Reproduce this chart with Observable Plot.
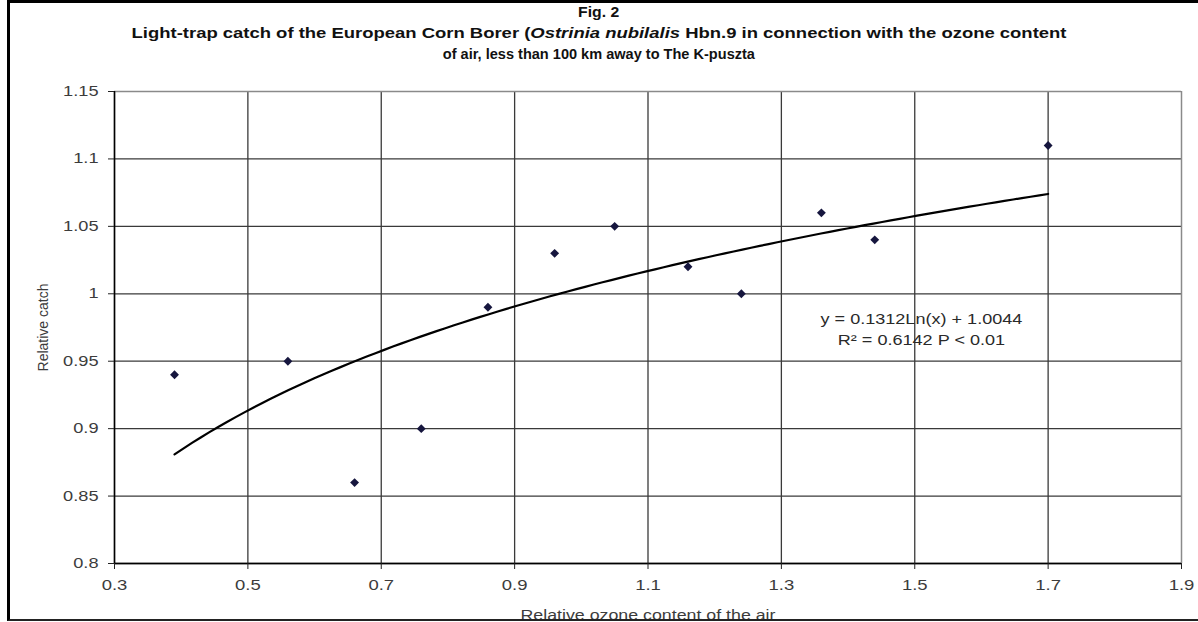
<!DOCTYPE html>
<html><head><meta charset="utf-8">
<script src="https://cdn.jsdelivr.net/npm/d3@7"></script>
<script src="https://cdn.jsdelivr.net/npm/@observablehq/plot@0.6"></script>
<style>
html,body{margin:0;padding:0;background:#fff;width:1198px;height:622px;overflow:hidden;}
#frame{position:absolute;left:7px;top:0;width:1200px;height:616px;border-left:3px solid #000;border-top:3px solid #000;border-bottom:2px solid #222;pointer-events:none;}
#title{position:absolute;left:0;top:1px;width:1198px;text-align:center;font-family:"Liberation Sans",Arial,sans-serif;font-weight:bold;font-size:15px;line-height:21px;color:#111;}
#title span{display:inline-block;transform-origin:50% 50%;white-space:nowrap;}
#title .l1{transform:scaleX(1.05);}
#title .l2{transform:scaleX(1.23);}
#title .l3{transform:scaleX(0.97);}
#chart{position:absolute;left:0;top:70px;}
</style></head>
<body>
<div id="title"><div><span class="l1">Fig. 2</span></div><div><span class="l2">Light-trap catch of the European Corn Borer (<i>Ostrinia nubilalis</i> Hbn.9 in connection with the ozone content</span></div><div><span class="l3">of air, less than 100 km away to The K-puszta</span></div></div>
<div id="chart"></div>
<div id="frame"></div>
<script>
// Observed points
const ozone = [0.39, 0.56, 0.66, 0.76, 0.86, 0.96, 1.05, 1.16, 1.24, 1.36, 1.44, 1.70];
const relCatch = [0.94, 0.95, 0.86, 0.90, 0.99, 1.03, 1.05, 1.02, 1.00, 1.06, 1.04, 1.11];
// Axis ticks
const xTicks = [0.3, 0.5, 0.7, 0.9, 1.1, 1.3, 1.5, 1.7, 1.9];
const yTicks = [0.8, 0.85, 0.9, 0.95, 1.0, 1.05, 1.1, 1.15];
// Trend line as given in the chart: y = a ln(x) + b
const trendA = 0.1312;
const trendB = 1.0044;
const equationText = ["y = 0.1312Ln(x) + 1.0044", "R² = 0.6142 P < 0.01"];
const equationX = [1.51, 1.51];
const equationY = [0.981, 0.965];

const points = ozone.map((x, i) => ({x, y: relCatch[i]}));
const [xmin, xmax] = d3.extent(ozone);
const trend = d3.range(0, 101).map(i => {
  const x = xmin + (xmax - xmin) * i / 100;
  return {x, y: trendA * Math.log(x) + trendB};
});
const eq = equationText.map((t, i) => ({t, x: equationX[i], y: equationY[i]}));
const fmt = d => String(+d.toFixed(2));

const chart = Plot.plot({
  width: 1198,
  height: 552,
  marginLeft: 114,
  marginRight: 17,
  marginTop: 21,
  marginBottom: 59,
  style: {fontFamily: "'Liberation Sans', Arial, sans-serif", background: "transparent"},
  x: {domain: [0.3, 1.9]},
  y: {domain: [0.8, 1.15]},
  marks: [
    Plot.gridY(yTicks.slice(0, -1), {stroke: "#3a3a3a", strokeOpacity: 1, strokeWidth: 1.3}),
    Plot.gridX(xTicks.slice(0, -1), {stroke: "#3a3a3a", strokeOpacity: 1, strokeWidth: 1.3}),
    Plot.ruleY([1.15], {stroke: "#8a8a8a", strokeWidth: 1.5}),
    Plot.ruleX([1.9], {stroke: "#8a8a8a", strokeWidth: 1.5}),
    Plot.ruleX([0.3], {stroke: "#000", strokeWidth: 1.5}),
    Plot.ruleY([0.8], {stroke: "#000", strokeWidth: 1.5}),
    Plot.axisY(yTicks, {tickSize: 6, tickPadding: 10, tickFormat: fmt, fontSize: 14, fill: "#3c3c3c", stroke: "#222",
      label: "Relative catch", labelAnchor: "center", labelOffset: 76, labelArrow: "none"}),
    Plot.axisX(xTicks, {tickSize: 6, tickPadding: 11, tickFormat: fmt, fontSize: 14, fill: "#3c3c3c", stroke: "#222",
      label: "Relative ozone content of the air", labelAnchor: "center", labelOffset: 56, labelArrow: "none"}),
    Plot.line(trend, {x: "x", y: "y", stroke: "#000", strokeWidth: 2.2}),
    Plot.dot(points, {x: "x", y: "y", symbol: "diamond2", r: 4, fill: "#16163e", stroke: "none"}),
    Plot.text(eq, {x: "x", y: "y", text: "t", fontSize: 14, fill: "#2a2a2a"})
  ]
});
document.getElementById("chart").appendChild(chart);

// The source image is horizontally stretched: widen glyphs of horizontal texts.
function stretch(selector, k) {
  chart.querySelectorAll(selector).forEach(t => {
    const w = t.getComputedTextLength();
    if (w > 0) {
      t.setAttribute("textLength", (w * k).toFixed(1));
      t.setAttribute("lengthAdjust", "spacingAndGlyphs");
    }
  });
}
stretch('g[aria-label="y-axis tick label"] text', 1.3);
stretch('g[aria-label="x-axis tick label"] text', 1.32);
stretch('g[aria-label="x-axis label"] text', 1.27);
stretch('g[aria-label="text"] text', 1.29);
</script>
</body></html>
